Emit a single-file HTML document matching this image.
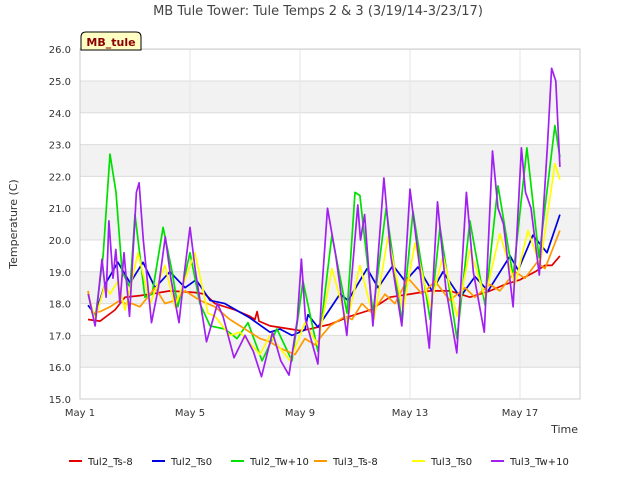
<!DOCTYPE html>
<html><head><meta charset="utf-8"><style>
body{margin:0;background:#fff;}
svg text{font-family:"DejaVu Sans","Liberation Sans",sans-serif;}
</style></head><body>
<svg id="chart" width="640" height="480" xmlns="http://www.w3.org/2000/svg">
<rect width="640" height="480" fill="#fff"/>
<text x="318" y="15" font-size="13" fill="#444" text-anchor="middle">MB Tule Tower: Tule Temps 2 &amp; 3 (3/19/14-3/23/17)</text>
<g id="bands"></g><g id="grid"></g>
<rect x="80" y="49" width="500" height="350" fill="none" stroke="#ccc"/>
<g id="yticks"></g><g id="xticks"></g><g id="series"></g>
<text transform="translate(17,224) rotate(-90)" font-size="11" fill="#333" text-anchor="middle">Temperature (C)</text>
<text x="578" y="433" font-size="11" fill="#333" text-anchor="end">Time</text>
<g>
<path d="M81,50 L81,37 Q81,32 86,32 L136,32 Q141,32 141,37 L141,50 Z" fill="#ffffc4" stroke="#000"/>
<text x="111" y="46" font-size="11" font-weight="bold" fill="#8b0000" text-anchor="middle">MB_tule</text>
</g>
<g id="legend"></g>
</svg>
<script>
const yTicks=[15,16,17,18,19,20,21,22,23,24,25,26];
const xTickDays=[0,4,8,12,16];
const xTickLabels=["May 1","May 5","May 9","May 13","May 17"];
const seriesNames=["Tul2_Ts-8","Tul2_Ts0","Tul2_Tw+10","Tul3_Ts-8","Tul3_Ts0","Tul3_Tw+10"];
const seriesColors=["#e00000","#0000e0","#00e000","#ff9900","#ffff00","#a020f0"];
const tul2Ts8T=[.29,.73,1.27,1.64,2.18,2.55,3.27,4.18,4.55,4.91,5.64,6.18,6.36,6.44,6.51,6.91,7.64,8.0,8.36,9.09,9.82,10.55,11.27,12.0,12.73,13.45,13.82,14.18,14.91,15.45,16.0,16.55,16.91,17.16,17.45];
const tul2Ts8V=[17.5,17.45,17.8,18.2,18.25,18.3,18.4,18.35,18.3,18.0,17.8,17.6,17.5,17.75,17.45,17.3,17.2,17.15,17.2,17.35,17.6,17.8,18.2,18.3,18.4,18.4,18.3,18.2,18.4,18.6,18.75,19.0,19.2,19.2,19.5];
const tul2Ts0T=[.29,.55,.91,1.38,1.82,2.29,2.73,3.27,3.82,4.22,4.73,5.27,6.18,6.91,7.27,7.71,8.18,8.29,8.65,9.45,9.75,10.44,10.84,11.38,11.82,12.29,12.8,13.2,13.82,14.36,14.84,15.64,15.93,16.47,16.98,17.45];
const tul2Ts0V=[17.95,17.65,18.6,19.3,18.65,19.3,18.5,19.0,18.5,18.75,18.1,18.0,17.55,17.1,17.2,17.0,17.17,17.65,17.26,18.3,18.1,19.1,18.5,19.2,18.7,19.15,18.4,19.0,18.2,18.85,18.4,19.5,19.05,20.15,19.6,20.8];
const tul2TwT=[.29,.55,.84,1.09,1.31,1.53,1.82,2.0,2.36,2.62,3.02,3.35,3.56,4.0,4.36,4.73,5.27,5.71,6.11,6.62,7.16,7.71,8.11,8.65,9.16,9.71,10.0,10.18,10.65,11.13,11.71,12.11,12.73,13.09,13.71,14.18,14.73,15.2,15.75,16.25,16.69,17.27,17.45];
const tul2TwV=[18.3,17.5,19.5,22.7,21.5,19.0,18.5,20.8,18.2,18.3,20.4,19.0,17.9,19.6,18.0,17.3,17.2,16.9,17.4,16.2,17.2,16.2,18.7,16.5,20.15,17.7,21.5,21.4,17.7,21.0,17.4,20.9,17.5,20.4,16.9,20.6,17.95,21.7,18.85,22.9,19.45,23.6,22.6];
const tul3Ts8T=[.29,.44,.73,1.09,1.45,1.64,1.89,2.18,2.55,2.73,3.09,3.45,3.82,4.36,4.91,5.45,5.82,6.18,6.55,6.91,7.27,7.82,8.18,8.55,8.8,9.09,9.64,9.89,10.25,10.62,11.09,11.45,11.93,12.44,12.91,13.45,14.0,14.36,14.91,15.27,15.82,16.18,16.62,16.91,17.45];
const tul3Ts8V=[18.4,17.7,17.75,17.9,18.1,18.0,18.0,17.9,18.3,18.5,18.0,18.1,18.4,18.1,17.9,17.5,17.3,17.1,16.9,16.8,16.6,16.4,16.9,16.7,17.0,17.3,17.6,17.5,18.0,17.7,18.3,18.0,18.8,18.3,18.7,18.1,18.5,18.2,18.6,18.4,19.0,18.8,19.3,19.1,20.3];
const tul3Ts0T=[.29,.55,.91,1.09,1.38,1.64,2.11,2.55,3.09,3.45,4.18,4.65,4.91,5.45,5.82,6.55,6.91,7.64,8.18,8.65,9.16,9.71,10.18,10.69,11.2,11.75,12.18,12.73,13.2,13.71,14.18,14.73,15.27,15.82,16.29,16.73,17.27,17.45];
const tul3Ts0V=[18.3,17.5,18.6,18.3,18.7,17.8,19.6,18.0,19.2,17.9,19.6,17.7,17.6,17.0,17.1,16.4,17.0,16.2,17.4,16.7,19.1,17.4,19.2,17.5,20.1,17.8,19.9,17.9,19.5,17.6,19.7,18.2,20.2,18.6,20.3,19.2,22.4,21.9];
const tul3TwT=[0.3,0.55,0.8,0.95,1.05,1.2,1.3,1.45,1.6,1.8,2.05,2.15,2.3,2.6,2.85,3.1,3.3,3.6,3.8,4.0,4.2,4.6,5.0,5.2,5.6,6.0,6.3,6.6,7.0,7.3,7.6,7.9,8.05,8.2,8.65,8.8,9.0,9.3,9.7,10.1,10.2,10.35,10.65,11.05,11.3,11.7,12.0,12.3,12.7,13.0,13.3,13.7,14.05,14.3,14.7,15.0,15.2,15.4,15.75,16.05,16.2,16.4,16.7,17.0,17.15,17.3,17.45];
const tul3TwV=[18.3,17.3,19.4,18.2,20.6,18.8,19.7,18.0,19.6,17.6,21.5,21.8,20.0,17.4,18.5,20.1,18.8,17.4,19.0,20.4,19.0,16.8,18.0,17.6,16.3,17.0,16.5,15.7,17.1,16.2,15.75,17.5,19.4,17.5,16.1,18.5,21.0,19.5,17.0,21.1,20.0,20.8,17.3,21.95,19.5,17.3,21.6,19.5,16.6,21.2,18.5,16.45,21.5,19.0,17.1,22.8,21.0,20.5,17.9,22.9,21.5,21.0,18.9,23.0,25.4,25.0,22.3];
const allT=[tul2Ts8T,tul2Ts0T,tul2TwT,tul3Ts8T,tul3Ts0T,tul3TwT];
const allV=[tul2Ts8V,tul2Ts0V,tul2TwV,tul3Ts8V,tul3Ts0V,tul3TwV];
const NS="http://www.w3.org/2000/svg";
const X0=80,PX=27.5,Y0=399,PY=31.8,YMIN=15;
function xs(t){return X0+t*PX;}
function ys(v){return Y0-(v-YMIN)*PY;}
function mk(tag,attrs,parent){const e=document.createElementNS(NS,tag);for(const k in attrs)e.setAttribute(k,attrs[k]);parent.appendChild(e);return e;}
const bands=document.getElementById('bands'),grid=document.getElementById('grid'),yt=document.getElementById('yticks'),xt=document.getElementById('xticks'),sg=document.getElementById('series'),lg=document.getElementById('legend');
for(let i=0;i<yTicks.length;i++){const v=yTicks[i];
 if(i<yTicks.length-1&&(v%2===0)){const b=mk('rect',{x:80,y:ys(v+1),width:500,height:PY,fill:'#f2f2f2'},bands);
  
  }
 const g=mk('line',{x1:80,x2:580,y1:ys(v),y2:ys(v),stroke:'#dcdcdc'},grid);
 
 
 const t=mk('text',{x:71,y:ys(v)+4,'font-size':10,fill:'#333','text-anchor':'end'},yt);t.textContent=v.toFixed(1);
 
 
}
for(let i=0;i<xTickDays.length;i++){const x=xs(xTickDays[i]);
 const g=mk('line',{x1:x,x2:x,y1:49,y2:399,stroke:'#e6e6e6'},grid);
 
 
 const t=mk('text',{x:x,y:416,'font-size':10,fill:'#333','text-anchor':'middle'},xt);t.textContent=xTickLabels[i];
 
 
}
for(let s=0;s<allT.length;s++){const T=allT[s],V=allV[s];const n=Math.min(T.length,V.length);
 let pts=[];for(let i=0;i<n;i++)pts.push(xs(T[i]).toFixed(1)+','+ys(V[i]).toFixed(1));
 const p=mk('polyline',{points:pts.join(' '),fill:'none',stroke:seriesColors[s],'stroke-width':1.7,'stroke-linejoin':'round'},sg);
 
 
}
const legX=[69,152,231,314,412,491];
for(let s=0;s<seriesNames.length;s++){const g=mk('g',{},lg);
 
 
 mk('line',{x1:legX[s],x2:legX[s]+13,y1:461,y2:461,stroke:seriesColors[s],'stroke-width':2},g);
 const t=mk('text',{x:legX[s]+19,y:465,'font-size':10,fill:'#222'},g);t.textContent=seriesNames[s];
}
</script>
</body></html>
